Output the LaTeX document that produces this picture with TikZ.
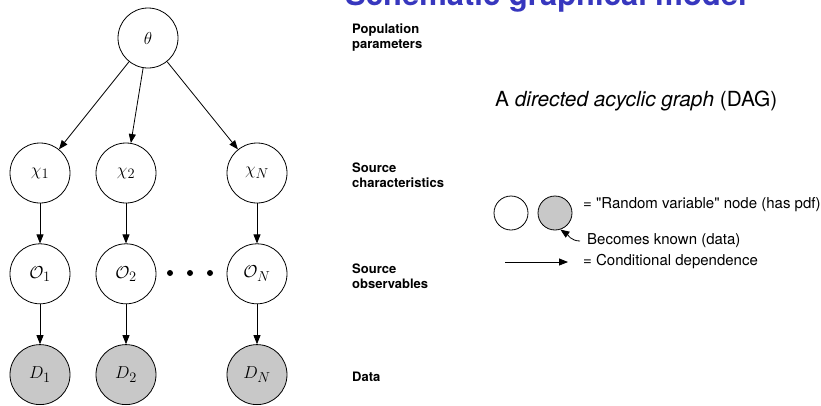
\documentclass[tikz,border=0pt]{standalone}
\usepackage{fontspec}
\setsansfont{TeX Gyre Heros}[Ligatures=TeXOff]
\usetikzlibrary{arrows.meta, positioning}
\definecolor{TitleBlue}{RGB}{55,55,190}
\definecolor{KnownGrey}{RGB}{200,200,200}

\begin{document}
\begin{tikzpicture}[
            x=1pt, y=-1pt,
            node distance=40pt,
            varnode/.style={
                draw,
                circle,
                line width=0.8pt,
                minimum size=60pt,
                inner sep=0pt,
                font=\fontsize{19}{21}\selectfont
            },
            datanode/.style={varnode, fill=KnownGrey},
            keynode/.style={varnode, minimum size=34pt},
            rowlabel/.style={
                anchor=west,
                align=left,
                inner sep=0pt,
                font=\sffamily\bfseries\fontsize{13}{15}\selectfont
            },
            keytext/.style={anchor=west, inner sep=0pt, font=\sffamily\fontsize{15}{17}\selectfont},
            arrow/.style={-{Triangle[length=9pt,width=7pt]}, line width=0.8pt}
        ]
            \useasboundingbox (0,0) rectangle (821,405);
            \node[font=\sffamily\bfseries\fontsize{31}{34}\selectfont, text=TitleBlue, anchor=base] (title) at (546,5) {Schematic graphical model};

            % graph
            \node[varnode] (theta) at (148,38) {$\theta$};
            \node[varnode] (chi1) at (40,173) {$\chi_1$};
            \node[varnode] (chi2) at (126,173) {$\chi_2$};
            \node[varnode] (chiN) at (257,173) {$\chi_N$};
            \node[varnode, below=of chi1] (obs1) {$\mathcal{O}_1$};
            \node[varnode, below=of chi2] (obs2) {$\mathcal{O}_2$};
            \node[varnode, below=of chiN] (obsN) {$\mathcal{O}_N$};
            \node[datanode, below=of obs1] (data1) {$D_1$};
            \node[datanode, below=of obs2] (data2) {$D_2$};
            \node[datanode, below=of obsN] (dataN) {$D_N$};

            \draw[arrow] (theta) -- (chi1);
            \draw[arrow] (theta) -- (chi2);
            \draw[arrow] (theta) -- (chiN);
            \foreach \col in {1,2,N} {
                \draw[arrow] (chi\col) -- (obs\col);
                \draw[arrow] (obs\col) -- (data\col);
            }
            \foreach \dx in {170,190,210}
                \fill (\dx,273) circle (3pt);

            % row labels
            \node[rowlabel] (poplbl) at (352,38) {Population\\parameters};
            \node[rowlabel] (chilbl) at (352,175) {Source\\characteristics};
            \node[rowlabel] (obslbl) at (352,276) {Source\\observables};
            \node[rowlabel] (datalbl) at (352,377) {Data};

            % key
            \node[anchor=west, inner sep=0pt, font=\sffamily\fontsize{20.8}{23}\selectfont] (dag) at (495,101) {A \textit{directed acyclic graph} (DAG)};
            \node[keynode] (keyopen) at (511,213) {};
            \node[keynode, fill=KnownGrey] (keyknown) at (555,213) {};
            \node[keytext] (keyrv) at (583,205) {= "Random variable" node (has pdf)};
            \node[keytext] (keydata) at (587,241) {Becomes known (data)};
            \node[keytext] (keycond) at (583,262) {= Conditional dependence};
            \coordinate (datatail) at (580,241);
            \coordinate (condtail) at (505,262);
            \coordinate (condhead) at (568,262);

            \draw[arrow] (datatail) to[out=180, in=-35] (keyknown.-72);
            \draw[arrow] (condtail) -- (condhead);
        \end{tikzpicture}
\end{document}
